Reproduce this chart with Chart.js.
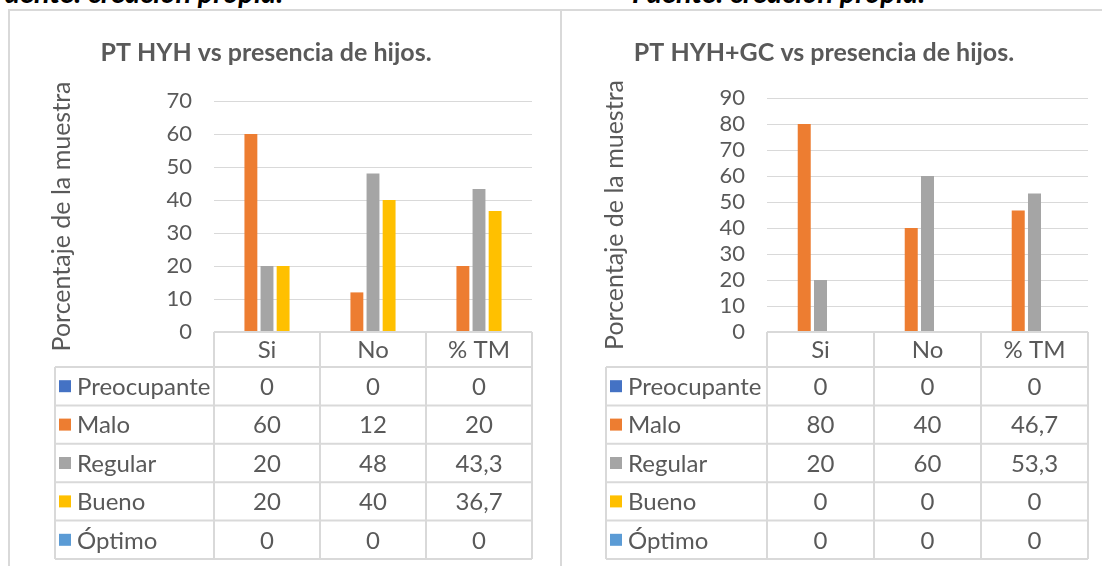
<!DOCTYPE html>
<html>
<head>
<meta charset="utf-8">
<script src="https://cdn.jsdelivr.net/npm/chart.js@4.4.0/dist/chart.umd.min.js"></script>
<style>
  body { margin: 0; background: #fff; width: 1102px; height: 566px; overflow: hidden; position: relative; font-family: Lato, sans-serif; }
  .fuente { position: absolute; top: -23px; font: italic bold 29px/29px Lato, sans-serif; color: #000; white-space: nowrap; }
  .line { position: absolute; background: #d9d9d9; }
  canvas { position: absolute; }
</style>
</head>
<body>
<div class="fuente" style="left:-10px">Fuente: creación propia.</div>
<div class="fuente" style="left:632px">Fuente: creación propia.</div>
<div class="line" style="left:8px;top:9px;width:1094px;height:2px"></div>
<div class="line" style="left:8px;top:9px;width:2px;height:557px"></div>
<div class="line" style="left:560px;top:9px;width:2px;height:557px"></div>
<div style="position:absolute;left:10px;top:11px;width:550px;height:555px"><canvas id="chart-hyh"></canvas></div>
<div style="position:absolute;left:563px;top:11px;width:539px;height:555px"><canvas id="chart-gc"></canvas></div>
<script>
// Data
const categories = ['Si', 'No', '% TM'];
const seriesNames = ['Preocupante', 'Malo', 'Regular', 'Bueno', 'Óptimo'];
const seriesColors = ['#4472C4', '#ED7D31', '#A5A5A5', '#FFC000', '#5B9BD5'];

// PT HYH
const hyhPreocupante = [0, 0, 0];
const hyhMalo = [60, 12, 20];
const hyhRegular = [20, 48, 43.3];
const hyhBueno = [20, 40, 36.7];
const hyhOptimo = [0, 0, 0];

// PT HYH+GC
const gcPreocupante = [0, 0, 0];
const gcMalo = [80, 40, 46.7];
const gcRegular = [20, 60, 53.3];
const gcBueno = [0, 0, 0];
const gcOptimo = [0, 0, 0];

const hyhAxisMax = 70;
const gcAxisMax = 90;
const axisStep = 10;

const textColor = '#595959';
const lineColor = '#d9d9d9';

const fmt = v => String(v).replace('.', ',');

// draws the title and the Excel-style data table under the plot
const excelTable = {
  id: 'excelTable',
  afterDraw(chart, args, opts) {
    const { ctx, chartArea } = chart;
    const x = chart.scales.x;
    const n = chart.data.labels.length;
    const colW = (chartArea.right - chartArea.left) / n;
    const top = chartArea.bottom;
    const rowsTop = top + opts.headerHeight;
    const datasets = chart.data.datasets;
    const bottom = rowsTop + opts.rowHeight * datasets.length;

    ctx.save();
    ctx.strokeStyle = lineColor;
    ctx.lineWidth = 2;
    ctx.beginPath();
    for (let i = 0; i <= n; i++) {
      const px = chartArea.left + i * colW;
      ctx.moveTo(px, top);
      ctx.lineTo(px, bottom);
    }
    ctx.moveTo(opts.legendLeft, rowsTop);
    ctx.lineTo(opts.legendLeft, bottom);
    ctx.moveTo(chartArea.left, top);
    ctx.lineTo(chartArea.right, top);
    for (let r = 0; r <= datasets.length; r++) {
      const py = rowsTop + r * opts.rowHeight;
      ctx.moveTo(opts.legendLeft, py);
      ctx.lineTo(chartArea.right, py);
    }
    ctx.stroke();

    ctx.font = '24px Lato';
    ctx.textBaseline = 'middle';
    ctx.textAlign = 'center';
    ctx.fillStyle = textColor;
    chart.data.labels.forEach((lab, i) => {
      ctx.fillText(lab, x.getPixelForValue(i), top + opts.headerHeight / 2 + 1);
    });

    datasets.forEach((ds, r) => {
      const cy = rowsTop + (r + 0.5) * opts.rowHeight;
      ctx.fillStyle = ds.backgroundColor;
      ctx.fillRect(opts.legendLeft + 4, cy - 6, 12, 12);
      ctx.fillStyle = textColor;
      ctx.textAlign = 'left';
      ctx.fillText(ds.label, opts.legendLeft + 22, cy + 1);
      ctx.textAlign = 'center';
      ds.data.forEach((v, i) => ctx.fillText(fmt(v), x.getPixelForValue(i), cy + 1));
    });

    ctx.font = 'bold 25px Lato';
    ctx.fillText(opts.title, opts.titleX, opts.titleY);
    ctx.restore();
  }
};

function makeChart(id, values, axisMax, title, titleX, padTop, padRight, legendLeft) {
  return new Chart(document.getElementById(id), {
    type: 'bar',
    data: {
      labels: categories,
      datasets: seriesNames.map((name, i) => ({
        label: name,
        data: values[i],
        backgroundColor: seriesColors[i],
        borderWidth: 0,
        categoryPercentage: 0.76,
        barPercentage: 0.8
      }))
    },
    options: {
      responsive: true,
      maintainAspectRatio: false,
      animation: false,
      layout: { padding: { top: padTop, bottom: 555 - 321, left: 30, right: padRight } },
      plugins: {
        legend: { display: false },
        tooltip: { enabled: false },
        excelTable: {
          title, titleX, titleY: 42,
          headerHeight: 35, rowHeight: 38.4, legendLeft
        }
      },
      scales: {
        x: { display: false },
        y: {
          min: 0,
          max: axisMax,
          afterFit: scale => { scale.width = 174; },
          border: { display: false },
          grid: { color: lineColor, lineWidth: 1, drawTicks: false },
          ticks: {
            stepSize: axisStep,
            autoSkip: false,
            padding: 22,
            color: textColor,
            font: { family: 'Lato', size: 22 }
          },
          title: {
            display: true,
            text: 'Porcentaje de la muestra',
            color: textColor,
            font: { family: 'Lato', size: 25 },
            padding: { top: 7, bottom: 0 }
          }
        }
      }
    },
    plugins: [excelTable]
  });
}

makeChart('chart-hyh',
  [hyhPreocupante, hyhMalo, hyhRegular, hyhBueno, hyhOptimo],
  hyhAxisMax, 'PT HYH vs presencia de hijos.', 256, 90, 28, 45);

makeChart('chart-gc',
  [gcPreocupante, gcMalo, gcRegular, gcBueno, gcOptimo],
  gcAxisMax, 'PT HYH+GC vs presencia de hijos.', 261, 87, 14, 43);
</script>
</body>
</html>
